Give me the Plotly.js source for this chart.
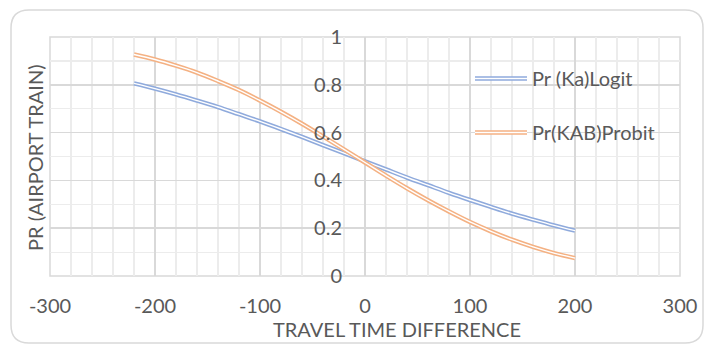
<!DOCTYPE html>
<html>
<head>
<meta charset="utf-8">
<script src="https://cdn.plot.ly/plotly-3.0.1.min.js"></script>
<style>html,body{margin:0;padding:0;background:#fff;}#chart{width:705px;height:344px;}</style>
</head>
<body>
<div id="chart"></div>
<script>
// Data
const travelTimeDiff = [-220,-200,-180,-160,-140,-120,-100,-80,-60,-40,-20,0,20,40,60,80,100,120,140,160,180,200];
const prLogit  = [0.806,0.784,0.760,0.734,0.707,0.677,0.647,0.615,0.582,0.548,0.514,0.480,0.446,0.412,0.380,0.348,0.318,0.289,0.261,0.236,0.212,0.190];
const prProbit = [0.927,0.906,0.880,0.851,0.816,0.778,0.734,0.687,0.637,0.584,0.530,0.475,0.420,0.367,0.317,0.270,0.226,0.187,0.152,0.122,0.096,0.075];
const seriesNames = ['Pr (Ka)Logit', 'Pr(KAB)Probit'];
const xTickVals = [-300,-200,-100,0,100,200,300];
const xTickText = ['-300','-200','-100','0','100','200','300'];
const yTickVals = [0,0.2,0.4,0.6,0.8,1];
const yTickText = ['0','0.2','0.4','0.6','0.8','1'];

const blue = '#8FAADC', orange = '#F4B183';
const W = 705, H = 344, mL = 50, mR = 25, mT = 37, mB = 68;
const pw = W - mL - mR, ph = H - mT - mB;
const px = x => (x - mL) / pw;
const py = y => (H - mB - y) / ph;

const fontFam = 'Lato, "Open Sans", sans-serif';
const fs = 20;

// Excel-style "double" line: wide coloured stroke with a thin white core
function pair(y, name, color, group) {
  return [
    {x: travelTimeDiff, y: y, type: 'scatter', mode: 'lines', name: name, legendgroup: group, legend: 'legend',
     line: {color: color, width: 4.5, shape: 'spline'}, hoverinfo: 'skip'},
    {x: travelTimeDiff, y: y, type: 'scatter', mode: 'lines', name: name, legendgroup: group + 'w', legend: 'legend2',
     line: {color: '#FFFFFF', width: 1.4, shape: 'spline'}, hoverinfo: 'skip'}
  ];
}
const data = [...pair(prLogit, seriesNames[0], blue, 'g1'), ...pair(prProbit, seriesNames[1], orange, 'g2')];

// rounded outer frame
const x0 = px(11), x1 = px(703), yb = py(343), yt = py(10);
const rx = 18 / pw, ry = 18 / ph;
const framePath = `M ${x0+rx},${yt} L ${x1-rx},${yt} Q ${x1},${yt} ${x1},${yt-ry} L ${x1},${yb+ry} Q ${x1},${yb} ${x1-rx},${yb} L ${x0+rx},${yb} Q ${x0},${yb} ${x0},${yb+ry} L ${x0},${yt-ry} Q ${x0},${yt} ${x0+rx},${yt} Z`;

const legendBase = {x: px(470), y: py(59), xanchor: 'left', yanchor: 'top', bgcolor: 'rgba(0,0,0,0)',
                    tracegroupgap: 25, itemwidth: 52};
const layout = {
  width: W, height: H,
  margin: {l: mL, r: mR, t: mT, b: mB, pad: 0},
  paper_bgcolor: '#FFFFFF', plot_bgcolor: '#FFFFFF',
  font: {family: fontFam, color: '#595959', size: fs},
  showlegend: true,
  legend: Object.assign({}, legendBase, {font: {size: fs, color: '#595959', family: fontFam}}),
  legend2: Object.assign({}, legendBase, {font: {size: fs, color: 'rgba(0,0,0,0)', family: fontFam}}),
  xaxis: {range: [-300, 300], tickmode: 'array', tickvals: xTickVals, ticktext: xTickText,
          showgrid: true, gridcolor: '#D9D9D9', gridwidth: 1.5, zeroline: false, showline: false, ticks: '',
          ticklabelstandoff: 16, tickfont: {size: fs, color: '#595959'},
          minor: {dtick: 20, showgrid: true, gridcolor: '#ECECEC', gridwidth: 1.2}, fixedrange: true},
  yaxis: {range: [0, 1], tickmode: 'array', tickvals: yTickVals, ticktext: yTickText,
          anchor: 'free', position: 0.5,
          showgrid: true, gridcolor: '#D9D9D9', gridwidth: 1.5, zeroline: false, showline: false, ticks: '',
          ticklabelstandoff: 23, tickfont: {size: fs, color: '#595959'},
          minor: {dtick: 0.1, showgrid: true, gridcolor: '#ECECEC', gridwidth: 1.2}, fixedrange: true},
  annotations: [
    {text: 'TRAVEL TIME DIFFERENCE', xref: 'paper', yref: 'paper', x: px(397), y: py(329),
     xanchor: 'center', yanchor: 'middle', showarrow: false, font: {size: fs, color: '#595959'}},
    {text: 'PR (AIRPORT TRAIN)', xref: 'paper', yref: 'paper', x: px(35), y: py(158),
     xanchor: 'center', yanchor: 'middle', showarrow: false, textangle: -90, font: {size: fs, color: '#595959'}}
  ],
  shapes: [
    {type: 'path', xref: 'paper', yref: 'paper', path: framePath, line: {color: '#D9D9D9', width: 1.5}, layer: 'below'},
    {type: 'rect', xref: 'paper', yref: 'paper', x0: 0, x1: 1, y0: 0, y1: 1, line: {color: '#D9D9D9', width: 1.5}, layer: 'below'}
  ]
};
Plotly.newPlot('chart', data, layout, {staticPlot: true, displayModeBar: false});
</script>
</body>
</html>
